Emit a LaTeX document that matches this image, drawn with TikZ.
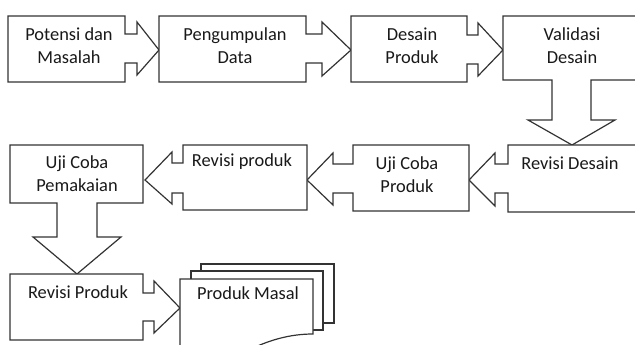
\documentclass[tikz,border=0pt]{standalone}
\usepackage{fontspec}
\setmainfont{Carlito}
\begin{document}
\begin{tikzpicture}[x=1pt,y=-1pt,
  shapeline/.style={draw=black!80,line width=1.2pt,line join=miter,fill=white},
  lbl/.style={align=center,inner sep=0pt,font=\fontsize{18.4}{23}\selectfont,text=black!90}]
\useasboundingbox (0,0) rectangle (635,345);
\clip (0,0) rectangle (635,345);
% row 1
\draw[shapeline] (8,16) -- (125,16) -- (125,34) -- (137,34) -- (137,22) -- (159,50) -- (137,75) -- (137,63) -- (125,63) -- (125,82) -- (8,82) -- cycle;
\draw[shapeline] (159,16) -- (306,16) -- (306,34) -- (322,34) -- (322,22) -- (351,50) -- (322,76) -- (322,63) -- (306,63) -- (306,82) -- (159,82) -- cycle;
\draw[shapeline] (351,16) -- (467,16) -- (467,35) -- (478,35) -- (478,23) -- (503,50) -- (478,76) -- (478,64) -- (467,64) -- (467,82) -- (351,82) -- cycle;
\draw[shapeline] (503,16) -- (645,16) -- (645,80) -- (591,80) -- (591,120) -- (615,120) -- (572,145) -- (528,120) -- (552,120) -- (552,80) -- (503,80) -- cycle;
% row 2
\draw[shapeline] (645,145) -- (508,145) -- (508,164) -- (495,164) -- (495,153) -- (469,180) -- (495,206) -- (495,193) -- (508,193) -- (508,212) -- (645,212) -- cycle;
\draw[shapeline] (469,145) -- (353,145) -- (353,164) -- (333,164) -- (333,153) -- (307,180) -- (333,205) -- (333,193) -- (353,193) -- (353,211) -- (469,211) -- cycle;
\draw[shapeline] (307,145) -- (183,145) -- (183,163) -- (172,163) -- (172,152) -- (145,180) -- (172,204) -- (172,193) -- (183,193) -- (183,210) -- (307,210) -- cycle;
\draw[shapeline] (10,145) -- (143,145) -- (143,203) -- (97,203) -- (97,237) -- (121,237) -- (77,274) -- (33,237) -- (57,237) -- (57,203) -- (10,203) -- cycle;
% row 3
\draw[shapeline] (10,274) -- (143,274) -- (143,293) -- (154,293) -- (154,281) -- (180,308) -- (154,333) -- (154,321) -- (143,321) -- (143,340) -- (10,340) -- cycle;
% multi-document
\draw[shapeline] (201,264) rectangle (334,323);
\draw[shapeline] (191,271) rectangle (323,330);
\draw[shapeline] (180,355) -- (180,279) -- (313,279) -- (313,334) .. controls (290,334) and (268,340) .. (245,352) -- cycle;
% labels
\node[lbl] (t1) at (69,46) {Potensi dan\\Masalah};
\node[lbl] (t2) at (235,46) {Pengumpulan\\Data};
\node[lbl] (t3) at (412,46) {Desain\\Produk};
\node[lbl] (t4) at (572,46) {Validasi\\Desain};
\node[lbl] (t5) at (570,163) {Revisi Desain};
\node[lbl] (t6) at (407,175) {Uji Coba\\Produk};
\node[lbl] (t7) at (242,162) {Revisi produk};
\node[lbl] (t8) at (77,174) {Uji Coba\\Pemakaian};
\node[lbl] (t9) at (78,292) {Revisi Produk};
\node[lbl] (t10) at (248,293) {Produk Masal};
\end{tikzpicture}
\end{document}
